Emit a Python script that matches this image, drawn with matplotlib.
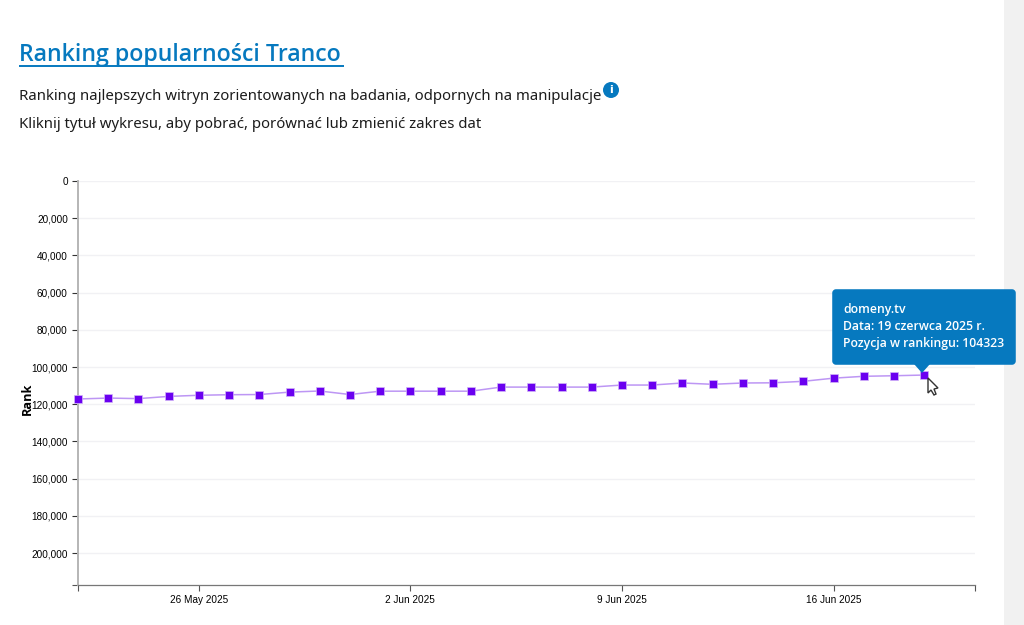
import matplotlib
matplotlib.use("Agg")
import matplotlib.pyplot as plt
import matplotlib.dates as mdates
import numpy as np
import pandas as pd
from matplotlib.patches import FancyBboxPatch, Polygon, Circle, Rectangle

# data
dates = pd.date_range("2025-05-22", "2025-06-19")
ranks = [117200, 116700, 117000, 115800, 115200, 114900, 114800, 113500, 112900, 114800,
         113000, 113000, 113000, 113000, 110800, 110800, 110800, 110800, 109700, 109700,
         108600, 109300, 108600, 108500, 107700, 106000, 105000, 104700, 104323]

y_ticks = np.arange(0, 200001, 20000)
x_ticks = pd.to_datetime(["2025-05-26", "2025-06-02", "2025-06-09", "2025-06-16"])
x_labels = ["26 May 2025", "2 Jun 2025", "9 Jun 2025", "16 Jun 2025"]

title = "Ranking popularności Tranco"
subtitle = "Ranking najlepszych witryn zorientowanych na badania, odpornych na manipulacje"
hint = "Kliknij tytuł wykresu, aby pobrać, porównać lub zmienić zakres dat"
tooltip = ["domeny.tv", "Data: 19 czerwca 2025 r.", "Pozycja w rankingu: 104323"]

W, H = 1024, 625
BLUE = "#0679bf"

fig = plt.figure(figsize=(W / 100, H / 100), dpi=100, facecolor="white")

# chart area
ax = fig.add_axes([78 / W, 1 - 585 / H, (975 - 78) / W, (585 - 181) / H])
x_end = mdates.date2num(dates[0]) + (975 - 78) / 30.22
ax.set_xlim(mdates.date2num(dates[0]), x_end)
ax.set_ylim(217200, 0)
ax.patch.set_alpha(0)

ax.plot(dates, ranks, color="#bd96f4", linewidth=1.1, zorder=3)
ax.plot(dates, ranks, linestyle="none", marker="s", markersize=6, color="#6a00f0",
        markeredgecolor="#d2b5f8", markeredgewidth=0.5, zorder=4, clip_on=False)

ax.set_yticks(y_ticks)
ax.set_yticklabels([f"{v:,}" for v in y_ticks], fontsize=7.2, fontfamily="Liberation Sans",
                   color="black", va="center_baseline")
ax.set_xticks(mdates.date2num(x_ticks))
ax.set_xticklabels(x_labels, fontsize=7.2, fontfamily="Liberation Sans", color="black")
ax.set_xticks([mdates.date2num(dates[0]), x_end], minor=True)
ax.set_yticks([217200], minor=True)
ax.tick_params(axis="both", which="both", length=4.3, width=0.8, color="#555555", pad=3)
ax.tick_params(axis="y", which="major", color="#333333")
ax.grid(axis="y", color="#f1f1f4", linewidth=1)
ax.set_axisbelow(True)

ax.spines["top"].set_visible(False)
ax.spines["right"].set_visible(False)
ax.spines["left"].set_color("#b5b5b5")
ax.spines["left"].set_linewidth(1.4)
ax.spines["bottom"].set_color("#777777")
ax.spines["bottom"].set_linewidth(0.9)

# everything around the chart, placed in pixels
page = fig.add_axes([0, 0, 1, 1], facecolor="none")
page.set_xlim(0, W)
page.set_ylim(H, 0)
page.axis("off")

page.add_patch(Rectangle((1004, 0), 20, H, color="#f1f1f1", lw=0))

page.text(19, 55, title, fontsize=16.7, fontweight="semibold", fontfamily="Open Sans",
          color=BLUE, va="center", ha="left")
page.plot([19, 344], [65.5, 65.5], color=BLUE, linewidth=1.4, solid_capstyle="butt")
page.text(19, 96, subtitle, fontsize=10.75, fontfamily="Noto Sans", color="#1c1c1c",
          va="center", ha="left")
page.text(19, 124, hint, fontsize=10.75, fontfamily="Noto Sans", color="#1c1c1c",
          va="center", ha="left")

page.add_patch(Circle((611, 90), 8, color=BLUE, lw=0))
page.text(611, 90, "i", fontsize=8, fontweight="bold", fontfamily="DejaVu Sans", color="white",
          ha="center", va="center")

page.text(27, 399, "Rank", fontsize=9.2, fontweight="bold", fontfamily="Open Sans", color="black",
          rotation=90, ha="center", va="center")

# tooltip
page.add_patch(FancyBboxPatch((835, 292), 178, 70, boxstyle="round,pad=0,rounding_size=1",
                              mutation_aspect=1, facecolor=BLUE, edgecolor=BLUE, linewidth=4,
                              joinstyle="round", zorder=5))
page.add_patch(Polygon([[914, 364], [930, 364], [922, 373]], closed=True, color=BLUE, lw=0, zorder=5))
for line, ypos in zip(tooltip, [310, 327, 344]):
    page.text(843, ypos, line, fontsize=8.8, fontweight="semibold", fontfamily="Open Sans",
              color="white", va="center", ha="left", zorder=6)

# mouse cursor
page.add_patch(Polygon([[928, 378], [928, 393], [931, 390], [934, 395], [936, 394],
                        [934, 389], [938, 388]], closed=True, facecolor="white",
                       edgecolor="#333333", linewidth=1, zorder=7))

fig.savefig("out.png", dpi=100)
plt.close()
